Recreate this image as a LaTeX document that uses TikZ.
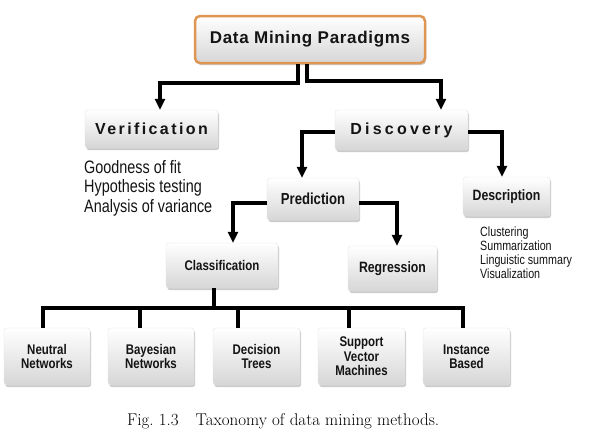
\documentclass[tikz,border=0pt]{standalone}
\usepackage{fontspec}
\usetikzlibrary{arrows.meta,shadows}

% Fonts: spaced bold headings, narrow labels, narrow list text
\newfontfamily\headfont[LetterSpace=15]{Liberation Sans}
\newfontfamily\labelfont[FakeStretch=0.82]{Liberation Sans}
\newfontfamily\listfont[FakeStretch=0.8]{Liberation Sans}

\definecolor{topedge}{RGB}{222,150,82}
\definecolor{inktext}{RGB}{20,20,20}

\tikzset{
  box/.style={rounded corners=3pt, draw=black!10, top color=white,
    bottom color=black!16, inner sep=0pt, align=center, text=inktext,
    drop shadow={shadow xshift=1.2pt, shadow yshift=-2.2pt, opacity=0.4}},
  headbox/.style={box, font=\headfont\bfseries\fontsize{16}{18}\selectfont},
  midbox/.style={box, font=\labelfont\bfseries\fontsize{16}{18}\selectfont},
  leafbox/.style={box, minimum width=86pt, minimum height=57pt,
    font=\labelfont\bfseries\fontsize{14}{14.5}\selectfont},
  conn/.style={line width=3.6pt, -{Triangle[length=11pt,width=10pt]}},
  link/.style={line width=3.6pt},
  listtext/.style={anchor=north west, inner sep=0pt, align=left, text=inktext}
}

\begin{document}
\begin{tikzpicture}[x=1pt,y=-1pt]
\fill[white] (0,0) rectangle (593,447);
\useasboundingbox (0,0) rectangle (593,447);

% root
\node[box, draw=topedge, line width=2.5pt, rounded corners=5pt,
  minimum width=230pt, minimum height=47pt,
  font=\headfont\bfseries\fontsize{17}{19}\selectfont\addfontfeatures{LetterSpace=4}]
  (top) at (310,39.5) {Data Mining Paradigms};

% second level
\node[headbox, minimum width=133pt, minimum height=38pt] (ver) at (151.5,129) {Verification};
\node[headbox, minimum width=133pt, minimum height=40pt,
  font=\headfont\bfseries\fontsize{16}{18}\selectfont\addfontfeatures{LetterSpace=20}]
  (dis) at (401.5,130) {Discovery};

% third and fourth level
\node[midbox, minimum width=92pt, minimum height=42pt] (pred) at (313,199) {Prediction};
\node[midbox, minimum width=87pt, minimum height=39pt,
  font=\labelfont\bfseries\fontsize{15}{17}\selectfont] (desc) at (506.5,196.5) {Description};
\node[midbox, minimum width=89pt, minimum height=45pt,
  font=\labelfont\bfseries\fontsize{15}{17}\selectfont] (reg) at (392.5,268.5) {Regression};
\node[midbox, minimum width=112pt, minimum height=45pt,
  font=\labelfont\bfseries\fontsize{14}{16}\selectfont] (cls) at (222,265.5) {Classification};

% leaves
\node[leafbox] (nn) at (47,356.5) {Neutral\\Networks};
\node[leafbox] (bn) at (151,356.5) {Bayesian\\Networks};
\node[leafbox, minimum width=87pt] (dt) at (256.5,356.5) {Decision\\Trees};
\node[leafbox, minimum width=87pt] (svm) at (361.5,356.5) {Support\\Vector\\Machines};
\node[leafbox, minimum width=87pt] (ib) at (466.5,356.5) {Instance\\Based};

% lists under the boxes
\node[listtext, font=\listfont\fontsize{18}{19.5}\selectfont] (verlist) at (84,160)
  {Goodness of fit\\Hypothesis testing\\Analysis of variance};
\node[listtext, font=\listfont\fontsize{13.4}{14}\selectfont] (desclist) at (480,226.5)
  {Clustering\\Summarization\\Linguistic summary\\Visualization};

% connectors
\draw[conn] ([xshift=-12pt]top.south) -- ++(0,19) -| ([xshift=8.5pt]ver.north);
\draw[conn] ([xshift=-3pt]top.south) -- ++(0,17) -| ([xshift=39.5pt]dis.north);
\draw[conn] ([yshift=-2pt]dis.west) -| ([xshift=-11pt]pred.north);
\draw[conn] ([yshift=-2pt]dis.east) -| ([xshift=-4.5pt]desc.north);
\draw[conn] ([yshift=-4pt]pred.west) -| ([xshift=11pt]cls.north);
\draw[conn] ([yshift=-4pt]pred.east) -| ([xshift=4.5pt]reg.north);

\coordinate (bar) at (214,308);
\draw[link] ([xshift=-8pt]cls.south) -- (bar);
\draw[link] (bar) -| ([xshift=-4pt]nn.north);
\draw[link] (bar) -| ([xshift=-11pt]bn.north);
\draw[link] (bar) -| ([xshift=-18.5pt]dt.north);
\draw[link] (bar) -| ([xshift=-12.5pt]svm.north);
\draw[link] (bar) -| ([xshift=-3.5pt]ib.north);

% caption
\node[anchor=base west, inner sep=0pt, font=\fontsize{17}{20}\selectfont] (cap) at (127,425)
  {Fig.~1.3\quad Taxonomy of data mining methods.};
\end{tikzpicture}
\end{document}
